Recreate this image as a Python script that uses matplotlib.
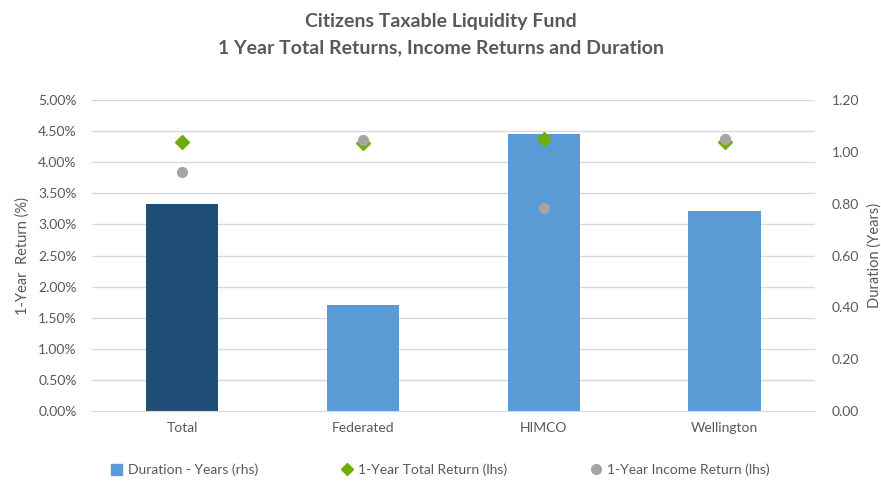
import matplotlib.pyplot as plt
from matplotlib.ticker import FuncFormatter, MultipleLocator
from matplotlib.lines import Line2D
from matplotlib.patches import Patch

plt.rcParams['font.family'] = ['Lato', 'DejaVu Sans']

funds = ['Total', 'Federated', 'HIMCO', 'Wellington']
duration_years = [0.80, 0.41, 1.067, 0.773]
total_return = [4.33, 4.31, 4.38, 4.32]
income_return = [3.85, 4.36, 3.27, 4.38]

grey = '#595959'
bar_colors = ['#1F4E79', '#5B9BD5', '#5B9BD5', '#5B9BD5']

fig = plt.figure(figsize=(8.81, 4.82), dpi=100)
ax = fig.add_axes([0.1044, 0.147, 0.8206, 0.6455])
ax2 = ax.twinx()

x = list(range(len(funds)))

# bars on the right axis, drawn behind the markers
ax2.bar(x, duration_years, width=0.4, color=bar_colors, zorder=2)
ax2.set_ylim(0, 1.2)
ax2.yaxis.set_major_locator(MultipleLocator(0.2))
ax2.yaxis.set_major_formatter(FuncFormatter(lambda v, p: f'{v:.2f}'))

ax.set_zorder(ax2.get_zorder() + 1)
ax.patch.set_visible(False)
ax.scatter(x, total_return, marker='D', s=50, color='#70AD07', zorder=4)
ax.scatter(x, income_return, marker='o', s=50, color='#A5A5A5', zorder=5)
ax.set_ylim(0, 5)
ax.set_xlim(-0.5, 3.5)
ax.yaxis.set_major_locator(MultipleLocator(0.5))
ax.yaxis.set_major_formatter(FuncFormatter(lambda v, p: f'{v:.2f}%'))
ax.set_xticks(x)
ax.set_xticklabels(funds)

# gridlines from left axis, drawn under bars
for yv in [i * 0.5 for i in range(1, 11)]:
    ax2.axhline(yv * 1.2 / 5, color='#D9D9D9', lw=1, zorder=0)

for a in (ax, ax2):
    for s in a.spines.values():
        s.set_visible(False)
    a.tick_params(length=0, colors=grey, labelsize=10)
ax.spines['bottom'].set_visible(True)
ax.spines['bottom'].set_color('#D9D9D9')
ax.tick_params(axis='y', pad=11)
ax.tick_params(axis='x', pad=8)
ax2.tick_params(axis='y', pad=12)

ax.set_ylabel('1-Year  Return (%)', color=grey, fontsize=10.5, labelpad=6)
ax2.set_ylabel('Duration (Years)', color=grey, fontsize=10.5, labelpad=6)

fig.text(0.5, 0.955, 'Citizens Taxable Liquidity Fund', ha='center', va='center',
         fontsize=14, fontweight='bold', color=grey)
fig.text(0.5, 0.9, '1 Year Total Returns, Income Returns and Duration', ha='center',
         va='center', fontsize=14, fontweight='bold', color=grey)

handles = [
    Patch(color='#5B9BD5', label='Duration - Years (rhs)'),
    Line2D([], [], marker='D', color='#70AD07', ls='none', markersize=6,
           label='1-Year Total Return (lhs)'),
    Line2D([], [], marker='o', color='#A5A5A5', ls='none', markersize=7,
           label='1-Year Income Return (lhs)'),
]
fig.legend(handles=handles, loc='center', bbox_to_anchor=(0.5, 0.025), ncol=3,
           frameon=False, fontsize=10, labelcolor=grey, columnspacing=6,
           handlelength=0.8, handletextpad=0.4, handleheight=0.8)

fig.savefig('out.png', dpi=100)
